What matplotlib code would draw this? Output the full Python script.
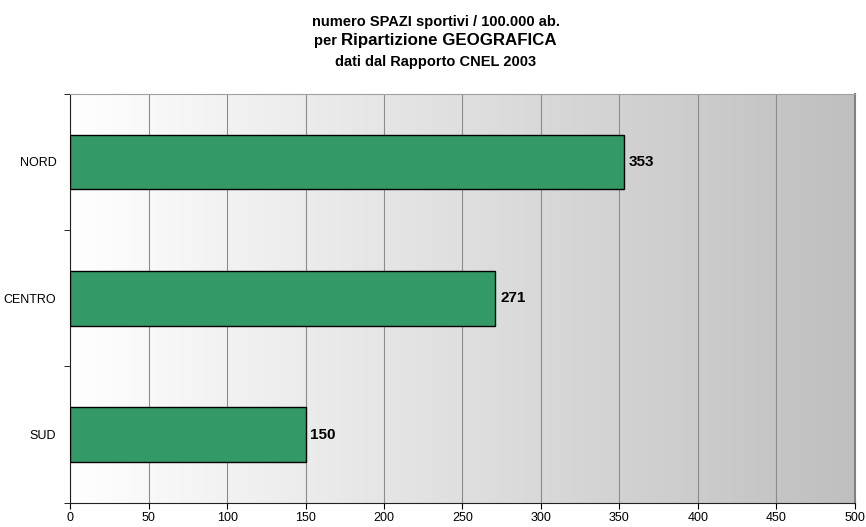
import matplotlib
matplotlib.use("Agg")
import matplotlib.pyplot as plt
import numpy as np
from matplotlib.colors import LinearSegmentedColormap

plt.rcParams['font.family'] = ['Liberation Sans', 'DejaVu Sans']

regions = ["NORD", "CENTRO", "SUD"]
spazi = [353, 271, 150]
xticks = [0, 50, 100, 150, 200, 250, 300, 350, 400, 450, 500]

fig = plt.figure(figsize=(8.66, 5.27), dpi=100)
ax = fig.add_axes([0.081, 0.046, 0.906, 0.776])

# background gradient white -> grey
cmap = LinearSegmentedColormap.from_list("bg", ["#ffffff", "#bfbfbf"])
grad = np.linspace(0, 1, 256).reshape(1, -1)
ax.imshow(grad, aspect="auto", cmap=cmap, extent=[0, 500, 3, 0], zorder=0)

pos = np.arange(len(regions)) + 0.5
ax.barh(pos, spazi, height=0.4, color="#339966", edgecolor="black",
        linewidth=1, zorder=3)
for p, v in zip(pos, spazi):
    ax.text(v + 3, p, str(v), va="center", ha="left", fontsize=11,
            fontweight="bold", zorder=4)

ax.set_xlim(0, 500)
ax.set_ylim(3, 0)
ax.set_xticks(xticks)
ax.set_xticklabels([str(t) for t in xticks], fontsize=9)
ax.set_yticks(pos)
ax.set_yticklabels(regions, fontsize=9)
ax.set_yticks([0, 1, 2, 3], minor=True)
ax.tick_params(axis="y", which="major", length=0, pad=10)
ax.tick_params(axis="y", which="minor", length=4, direction="out")
ax.tick_params(axis="x", length=4, direction="out", pad=3)
ax.grid(axis="x", color="#8c8c8c", linewidth=0.8, zorder=1)
ax.set_axisbelow(True)
ax.spines["left"].set_color("#222222")
ax.spines["bottom"].set_color("#222222")
ax.spines["top"].set_color("#a0a0a0")
ax.spines["right"].set_color("#808080")
ax.spines["right"].set_linewidth(1.5)

# title, three lines; the middle one mixes two sizes
cx = 0.503
fig.text(cx, 0.958, "numero SPAZI sportivi / 100.000 ab.", ha="center",
         va="center", fontsize=10.5, fontweight="bold")
t1 = fig.text(0, 0.923, "per ", ha="left", va="center", fontsize=10.5,
              fontweight="bold")
t2 = fig.text(0, 0.923, "Ripartizione GEOGRAFICA", ha="left", va="center",
              fontsize=12.2, fontweight="bold")
fig.text(cx, 0.882, "dati dal Rapporto CNEL 2003", ha="center",
         va="center", fontsize=10.5, fontweight="bold")
r = fig.canvas.get_renderer()
w1 = t1.get_window_extent(r).width / fig.bbox.width
w2 = t2.get_window_extent(r).width / fig.bbox.width
t1.set_x(cx - (w1 + w2) / 2)
t2.set_x(cx - (w1 + w2) / 2 + w1)

fig.savefig("out.png", dpi=100)
